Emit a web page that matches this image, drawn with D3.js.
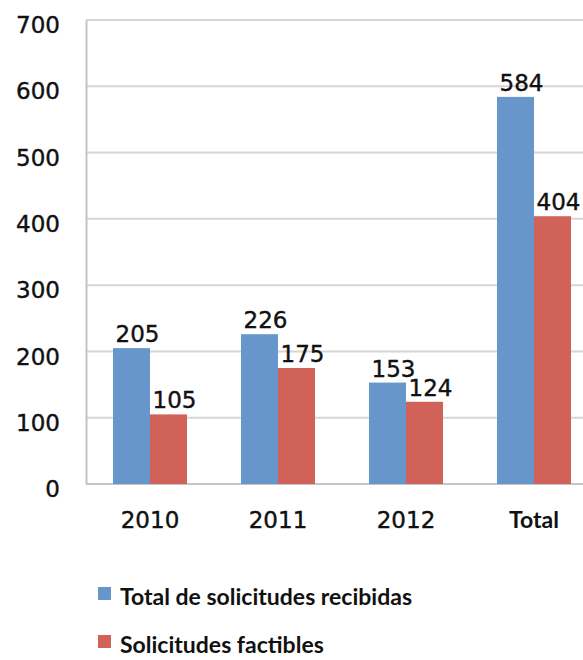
<!DOCTYPE html>
<html><head><meta charset="utf-8">
<script src="https://cdn.jsdelivr.net/npm/d3@7"></script>
<style>body{margin:0;background:#fff}svg{display:block}</style>
</head><body>
<script>
const categories = ["2010", "2011", "2012", "Total"];
const seriesNames = ["Total de solicitudes recibidas", "Solicitudes factibles"];
const recibidas = [205, 226, 153, 584];
const factibles = [105, 175, 124, 404];
const yTicks = [0, 100, 200, 300, 400, 500, 600, 700];
const colors = ["#6796cb", "#d1625a"];

const W = 583, H = 660;
const svg = d3.select("body").append("svg").attr("width", W).attr("height", H);

const x = d3.scaleBand().domain(categories).range([86, 86 + 128 * 4]).padding(0);
const xSub = d3.scaleBand().domain(seriesNames)
  .range([x.bandwidth() / 2 - 37, x.bandwidth() / 2 + 37]).padding(0);
const y = d3.scaleLinear().domain([0, 700]).range([484, 20]);

// gridlines
svg.append("g").selectAll("line").data(yTicks.filter(d => d > 0)).join("line")
  .attr("x1", 86).attr("x2", W).attr("y1", d => y(d)).attr("y2", d => y(d))
  .attr("stroke", "#d6d6d6").attr("stroke-width", 2);

// y axis
const yAxis = svg.append("g").attr("transform", "translate(86,0)")
  .call(d3.axisLeft(y).tickValues(yTicks).tickSize(0).tickPadding(26));
yAxis.select(".domain").attr("stroke", "#c4c4c4").attr("stroke-width", 2);
yAxis.selectAll("text").attr("font-family", "DejaVu Sans").attr("font-size", 23)
  .attr("fill", "#111").attr("stroke", "#111").attr("stroke-width", 0.4).attr("dy", "0.55em");

// x axis
const xAxis = svg.append("g").attr("transform", "translate(0,484)")
  .call(d3.axisBottom(x).tickSize(0).tickPadding(28));
xAxis.select(".domain").attr("stroke", "#c4c4c4").attr("stroke-width", 2)
  .attr("d", `M86,0H${W}`);
xAxis.selectAll("text").attr("font-family", d => d === "Total" ? "Lato" : "DejaVu Sans")
  .attr("font-weight", d => d === "Total" ? "bold" : "normal")
  .attr("font-size", d => d === "Total" ? 23 : 23).attr("fill", "#111")
  .attr("stroke", d => d === "Total" ? "none" : "#111").attr("stroke-width", 0.4);

const data = categories.map((c, i) => ({cat: c, vals: [recibidas[i], factibles[i]]}));

const groups = svg.append("g").selectAll("g").data(data).join("g")
  .attr("transform", d => `translate(${x(d.cat)},0)`);

groups.selectAll("rect").data(d => d.vals.map((v, j) => ({s: seriesNames[j], v, j}))).join("rect")
  .attr("x", d => xSub(d.s)).attr("width", xSub.bandwidth())
  .attr("y", d => y(d.v)).attr("height", d => y(0) - y(d.v))
  .attr("fill", d => colors[d.j]);

groups.selectAll("text.val").data(d => d.vals.map((v, j) => ({s: seriesNames[j], v, j}))).join("text")
  .attr("class", "val")
  .attr("x", d => xSub(d.s) + xSub.bandwidth() / 2 + 6)
  .attr("y", d => y(d.v) - 6)
  .attr("text-anchor", "middle")
  .attr("font-family", "DejaVu Sans").attr("font-size", 23).attr("fill", "#111")
  .attr("stroke", "#111").attr("stroke-width", 0.4)
  .text(d => d.v);

// legend
const legend = svg.append("g").selectAll("g").data(seriesNames).join("g")
  .attr("transform", (d, i) => `translate(98,${587 + i * 48})`);
legend.append("rect").attr("width", 13).attr("height", 13).attr("fill", (d, i) => colors[i]);
legend.append("text").attr("x", 22).attr("y", 18)
  .attr("font-family", "Lato").attr("font-weight", "bold").attr("font-size", 23)
  .attr("fill", "#111").text(d => d);
</script>
</body></html>
